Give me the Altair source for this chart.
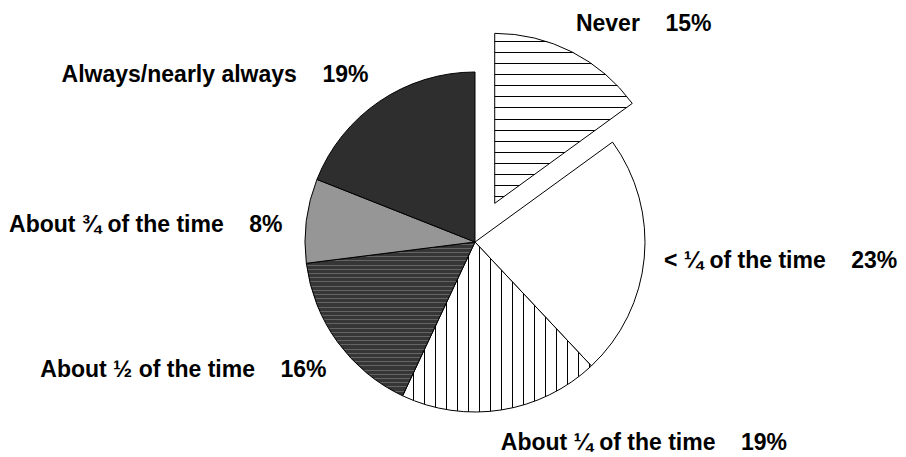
import math
import altair as alt
import pandas as pd

# ---- data ----
categories = [
    "Never",
    "< ¼ of the time",
    "About ¼ of the time",
    "About ½ of the time",
    "About ¾ of the time",
    "Always/nearly always",
]
values = [15, 23, 19, 16, 8, 19]

df = pd.DataFrame({"category": categories, "value": values})
df["end"] = df["value"].cumsum()
df["start"] = df["end"] - df["value"]
df["mid"] = (df["start"] + df["end"]) / 2
df["label"] = df["category"] + "\u00a0" * 4 + df["value"].astype(str) + "%"

# ---- layout / style ----
W, H = 890, 449
CX, CY = 467, 234
R = 170
EXPLODE = 43.4
EXPLODED = {"Never"}
TOTAL = 100.0
theta_scale = alt.Scale(domain=[0, TOTAL], range=[0, 2 * math.pi])
FONT = "Liberation Sans"


def arc_bbox(p0, p1):
    """bounding box of a pie slice given percent start/end"""
    a0, a1 = p0 / TOTAL * 360, p1 / TOTAL * 360
    angs = [a0, a1] + [a for a in (0, 90, 180, 270, 360) if a0 < a < a1]
    xs = [0.0] + [R * math.sin(math.radians(a)) for a in angs]
    ys = [0.0] + [-R * math.cos(math.radians(a)) for a in angs]
    return max(xs) - min(xs), max(ys) - min(ys)


def stripes(vertical_lines, first, step, extent, line_px, bg, fg):
    stops = [{"offset": 0, "color": bg}]
    pos = first
    while pos + line_px < extent:
        a, b = pos / extent, (pos + line_px) / extent
        stops += [
            {"offset": a, "color": bg},
            {"offset": a, "color": fg},
            {"offset": b, "color": fg},
            {"offset": b, "color": bg},
        ]
        pos += step
    stops.append({"offset": 1, "color": bg})
    grad = {"gradient": "linear", "stops": stops}
    if vertical_lines:
        grad.update(x1=0, y1=0, x2=1, y2=0)
    else:
        grad.update(x1=0, y1=0, x2=0, y2=1)
    return grad


def fill_for(i):
    w, h = arc_bbox(df["start"][i], df["end"][i])
    if i == 0:
        return stripes(False, 7.5, 11.1, h, 1.0, "#ffffff", "#000000")
    if i == 1:
        return "#ffffff"
    if i == 2:
        return stripes(True, 10.4, 11.0, w, 1.0, "#ffffff", "#000000")
    if i == 3:
        return stripes(False, 1.5, 4.2, h, 1.0, "#363636", "#646464")
    if i == 4:
        return "#969696"
    return "#2e2e2e"


label_offsets = [
    (84.7, -46.5),
    (121.5, 8.9),
    (140.0, 25.3),
    (-141.9, 26.0),
    (-145.7, 12.9),
    (-156.0, -7.3),
]

base = alt.Chart(df)
layers = []
for i, cat in enumerate(categories):
    cx, cy = CX, CY
    if cat in EXPLODED:
        m = math.radians(df["mid"][i] / TOTAL * 360)
        cx += EXPLODE * math.sin(m)
        cy -= EXPLODE * math.cos(m)
    layers.append(
        base.transform_filter(alt.FieldEqualPredicate(field="category", equal=cat))
        .mark_arc(radius=R, fill=fill_for(i), stroke="#000000", strokeWidth=1)
        .encode(
            theta=alt.Theta("start:Q", scale=theta_scale),
            theta2="end:Q",
            x=alt.value(cx),
            y=alt.value(cy),
        )
    )

for i, cat in enumerate(categories):
    dx, dy = label_offsets[i]
    layers.append(
        base.transform_filter(alt.FieldEqualPredicate(field="category", equal=cat))
        .mark_text(
            radius=185,
            dx=dx,
            dy=dy,
            align="center",
            baseline="alphabetic",
            font=FONT,
            fontSize=23,
            fontWeight="bold",
            color="#000000",
        )
        .encode(
            theta=alt.Theta("mid:Q", scale=theta_scale),
            text="label:N",
            x=alt.value(CX),
            y=alt.value(CY),
        )
    )

chart = (
    alt.layer(*layers)
    .properties(width=W, height=H, padding=0, autosize="none")
    .configure_view(stroke=None)
)

chart.save("out.html", embed_options={"renderer": "svg", "actions": False})
